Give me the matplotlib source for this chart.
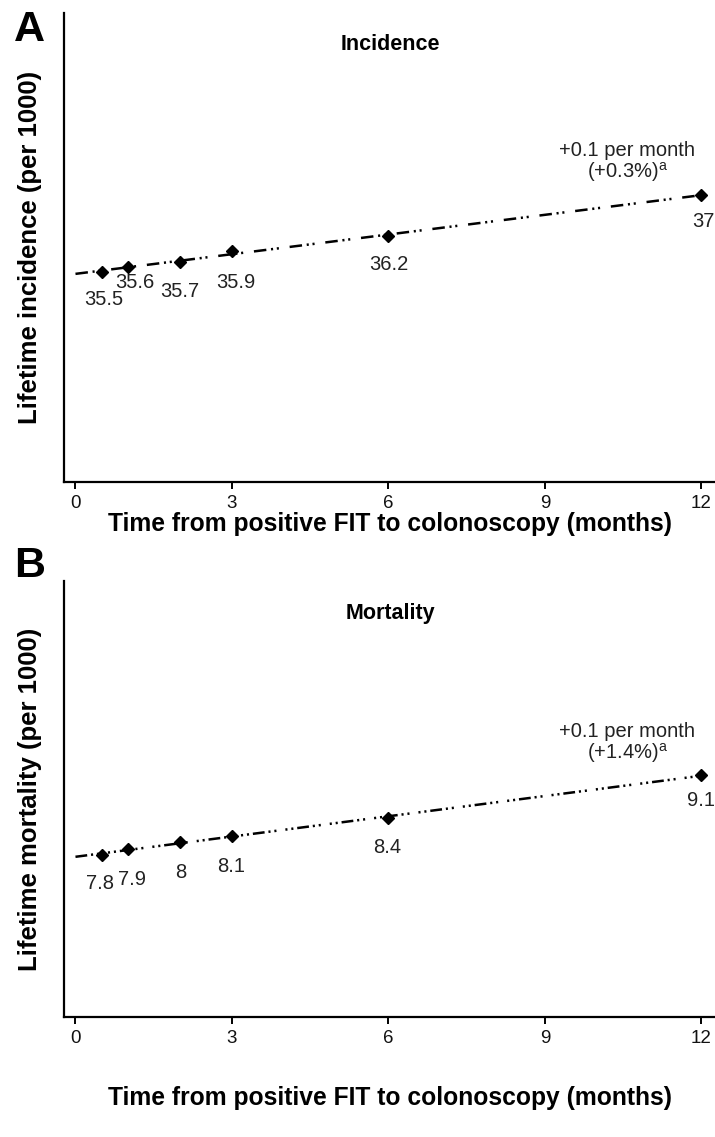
import numpy as np
import matplotlib
matplotlib.use("Agg")
import matplotlib.pyplot as plt

# ---------------- data ----------------
months = [0.5, 1, 2, 3, 6, 12]
incidence = [35.5, 35.6, 35.7, 35.9, 36.2, 37.0]
incidence_labels = ["35.5", "35.6", "35.7", "35.9", "36.2", "37"]
mortality = [7.8, 7.9, 8.0, 8.1, 8.4, 9.1]
mortality_labels = ["7.8", "7.9", "8", "8.1", "8.4", "9.1"]
xticks = [0, 3, 6, 9, 12]
trend_range = [0, 12]
incidence_note = ["+0.1 per month", "(+0.3%)"]
mortality_note = ["+0.1 per month", "(+1.4%)"]
xlabel_text = "Time from positive FIT to colonoscopy (months)"

# ---------------- style ----------------
plt.rcParams["font.family"] = ["Liberation Sans", "DejaVu Sans"]
plt.rcParams["mathtext.default"] = "regular"
plt.rcParams["lines.scale_dashes"] = False

DPI = 100
W, H = 715, 1137
fig = plt.figure(figsize=(W / DPI, H / DPI), dpi=DPI)


def px(v):
    return v * 72.0 / DPI


def axes_box(left, top, right, bottom):
    return [left / W, 1 - bottom / H, (right - left) / W, (bottom - top) / H]


def panel(box, values, labels, offsets, ylim, title, title_y, ylabel, note,
          dash, letter, letter_top, xlabel_y):
    ax = fig.add_axes(box)
    ax.set_xlim(-0.22, 12.26)
    ax.set_ylim(*ylim)
    for s in ("top", "right"):
        ax.spines[s].set_visible(False)
    for s in ("left", "bottom"):
        ax.spines[s].set_linewidth(1.6)
    ax.set_yticks([])
    ax.set_xticks(xticks)
    ax.set_xticklabels([str(t) for t in xticks])
    ax.tick_params(axis="x", length=px(7), width=1.4, pad=4.5,
                   labelsize=13.5, labelcolor="#111111")

    # trend line (least-squares fit of the plotted values)
    k, b = np.polyfit(months, values, 1)
    xs = np.array(trend_range, dtype=float)
    ax.plot(xs, k * xs + b, color="black", lw=1.8,
            linestyle=(0, dash), zorder=2, clip_on=False)
    ax.plot(months, values, linestyle="none", marker="D", ms=6.5,
            color="black", zorder=3, clip_on=False)

    for x, y, lab, (dx, dy) in zip(months, values, labels, offsets):
        ax.annotate(lab, (x, y), xytext=(px(dx), -px(dy)),
                    textcoords="offset points", ha="center", va="center",
                    fontsize=14.5, color="#222222", annotation_clip=False)

    ax.annotate(note[0] + "\n" + note[1] + "$^{a}$", (months[-1], values[-1]),
                xytext=(px(-74), px(32)), textcoords="offset points",
                ha="center", va="center", fontsize=14.5, linespacing=1.0,
                color="#222222", annotation_clip=False)

    top = (1 - box[1] - box[3]) * H
    bottom = (1 - box[1]) * H
    fig.text(390 / W, 1 - title_y / H, title, ha="center", va="center",
             fontsize=15.5, fontweight="bold")
    fig.text(30 / W, 1 - ((top + bottom) / 2) / H, ylabel, rotation=90,
             ha="center", va="center", fontsize=18.5, fontweight="bold")
    fig.text(14 / W, 1 - letter_top / H, letter, ha="left", va="top",
             fontsize=31, fontweight="bold")
    xl = fig.text(390 / W, 1 - xlabel_y / H, xlabel_text,
                  ha="center", va="center", fontsize=18, fontweight="bold")
    return ax, xl


boxA = axes_box(64, 13, 715, 482)
boxB = axes_box(64, 581, 715, 1017)

dashA = (9.0, 3.4, 1.5, 2.7, 1.5, 7.8)
dashB = (8.5, 2.8, 1.5, 2.8, 1.5, 6.5, 1.5, 2.8, 1.5, 2.8)

offA = [(2, 28), (7, 16), (0, 30), (4, 31), (0, 29), (2, 27)]
offB = [(-2, 29), (4, 31), (1, 30), (-1, 30), (-1, 30), (0, 25)]

axA, xlA = panel(boxA, incidence, incidence_labels, offA, (31.4, 40.55),
                 "Incidence", 45, "Lifetime incidence (per 1000)",
                 incidence_note, dashA, "A", 10, 524)
axB, xlB = panel(boxB, mortality, mortality_labels, offB, (5.15, 12.27),
                 "Mortality", 614, "Lifetime mortality (per 1000)",
                 mortality_note, dashB, "B", 546, 1098)

# fit x-label width to the reference
fig.canvas.draw()
r = fig.canvas.get_renderer()
for xl in (xlA, xlB):
    w = xl.get_window_extent(r).width
    xl.set_fontsize(xl.get_fontsize() * 565.0 / w)

fig.savefig("out.png", dpi=DPI, facecolor="white")
